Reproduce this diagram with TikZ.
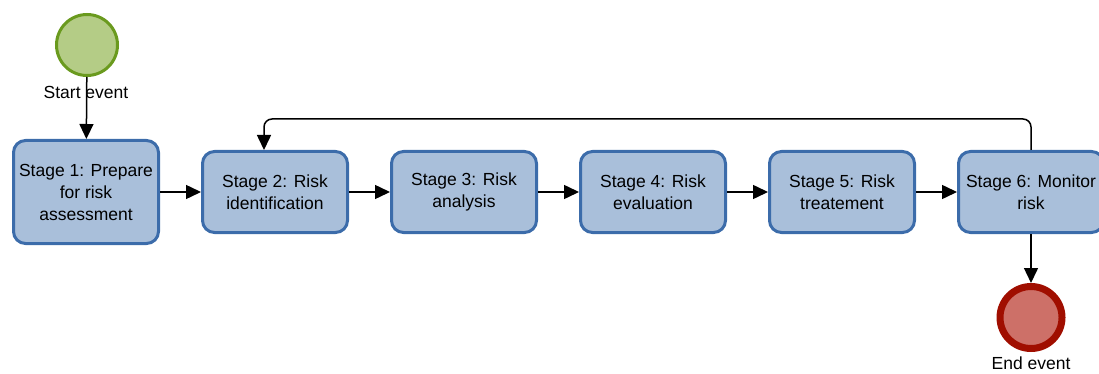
\documentclass[tikz,border=0pt]{standalone}
\usepackage{fontspec}
\setmainfont{Liberation Sans}
\usetikzlibrary{arrows.meta,positioning}
\definecolor{stageblue}{RGB}{169,191,218}
\definecolor{stageedge}{RGB}{60,108,170}
\definecolor{startgreen}{RGB}{180,204,134}
\definecolor{startedge}{RGB}{106,154,30}
\definecolor{endred}{RGB}{205,112,104}
\definecolor{endedge}{RGB}{160,14,0}
\tikzset{
  stageblock/.style={rectangle,draw=stageedge,fill=stageblue,line width=3pt,
    rounded corners=12pt,minimum width=145pt,minimum height=81pt,align=center,
    inner sep=2pt,font=\fontsize{17.5}{22}\selectfont},
  startev/.style={circle,draw=startedge,fill=startgreen,line width=3pt,
    minimum size=61pt,inner sep=0pt},
  endev/.style={circle,draw=endedge,fill=endred,line width=7pt,
    minimum size=62pt,inner sep=0pt},
  evlabel/.style={font=\fontsize{17.5}{22}\selectfont,inner sep=0pt},
  flow/.style={-{Triangle[length=15pt,width=14pt]},line width=1.5pt}
}

\begin{document}
\begin{tikzpicture}[x=1pt,y=1pt,node distance=41pt]
  \useasboundingbox (0,0) rectangle (1099,-374);
  % Events
  \node[startev] (start) at (87,-45) {};
  \node[evlabel] (startlbl) at (86,-92) {Start event};
  % Stages, left to right
  \node[stageblock,minimum height=103pt] (s1) at (86,-192) {Stage 1: Prepare\\for risk\\assessment};
  \node[stageblock,right=of s1] (s2) {Stage 2: Risk\\identification};
  \node[stageblock,right=of s2] (s3) {Stage 3: Risk\\analysis};
  \node[stageblock,right=of s3] (s4) {Stage 4: Risk\\evaluation};
  \node[stageblock,right=of s4] (s5) {Stage 5: Risk\\treatement};
  \node[stageblock,right=of s5] (s6) {Stage 6: Monitor\\risk};
  \node[endev,below=49pt of s6] (end) {};
  \node[evlabel,below=5pt of end] (endlbl) {End event};

  % Flow arrows
  \draw[flow] (start) -- (s1);
  \foreach \a/\b in {s1/s2,s2/s3,s3/s4,s4/s5,s5/s6}
    \draw[flow] (\a) -- (\b);
  \draw[flow] (s6) -- (end);
  % Loop back
  \coordinate (looptop) at (0,-119);
  \draw[flow,rounded corners=8pt] (s6.north) |- ([xshift=-11pt]s2.north |- looptop)
    -- ([xshift=-11pt]s2.north);
\end{tikzpicture}
\end{document}
